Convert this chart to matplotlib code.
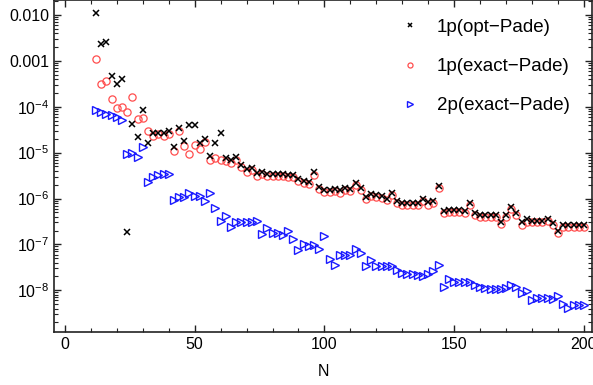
import math
import matplotlib
matplotlib.use('Agg')
import matplotlib.pyplot as plt
from matplotlib.ticker import FixedLocator, FuncFormatter, LogLocator, NullFormatter, MultipleLocator

plt.rcParams['font.family'] = ['Liberation Sans', 'DejaVu Sans']
plt.rcParams['mathtext.fontset'] = 'custom'
plt.rcParams['mathtext.rm'] = 'Liberation Sans'
plt.rcParams['mathtext.it'] = 'Liberation Sans:italic'
plt.rcParams['mathtext.bf'] = 'Liberation Sans:bold'

N = [12, 14, 16, 18, 20, 22, 24, 26, 28, 30, 32, 34, 36, 38, 40, 42, 44, 46, 48, 50,
     52, 54, 56, 58, 60, 62, 64, 66, 68, 70, 72, 74, 76, 78, 80, 82, 84, 86, 88, 90,
     92, 94, 96, 98, 100, 102, 104, 106, 108, 110, 112, 114, 116, 118, 120, 122, 124, 126, 128, 130,
     132, 134, 136, 138, 140, 142, 144, 146, 148, 150, 152, 154, 156, 158, 160, 162, 164, 166, 168, 170,
     172, 174, 176, 178, 180, 182, 184, 186, 188, 190, 192, 194, 196, 198, 200]

opt_pade_1p = [1.1e-2, 2.3e-3, 2.6e-3, 4.7e-4, 3.1e-4, 4.1e-4, 1.9e-7, 4.2e-5, 2.2e-5, 8.7e-5,
               1.66e-5, 2.7e-5, 2.7e-5, 2.7e-5, 2.9e-5, 1.35e-5, 3.4e-5, 1.8e-5, 3.9e-5, 3.9e-5,
               1.6e-5, 2.0e-5, 8.6e-6, 1.6e-5, 2.7e-5, 7.6e-6, 6.9e-6, 8.2e-6, 5.5e-6, 4.5e-6,
               4.7e-6, 3.6e-6, 3.8e-6, 3.5e-6, 3.5e-6, 3.5e-6, 3.5e-6, 3.2e-6, 3.2e-6, 2.7e-6,
               2.4e-6, 2.3e-6, 3.7e-6, 1.8e-6, 1.55e-6, 1.55e-6, 1.6e-6, 1.5e-6, 1.7e-6, 1.6e-6,
               2.2e-6, 1.66e-6, 1.1e-6, 1.26e-6, 1.2e-6, 1.15e-6, 1.0e-6, 1.3e-6, 8.7e-7, 7.9e-7,
               8.0e-7, 8.0e-7, 8.0e-7, 1.0e-6, 8.2e-7, 8.9e-7, 1.9e-6, 5.3e-7, 5.7e-7, 5.5e-7,
               5.5e-7, 5.4e-7, 8.1e-7, 4.8e-7, 4.3e-7, 4.4e-7, 4.3e-7, 4.4e-7, 3.1e-7, 4.4e-7,
               6.6e-7, 4.9e-7, 3.0e-7, 3.5e-7, 3.3e-7, 3.3e-7, 3.3e-7, 3.6e-7, 2.9e-7, 1.95e-7,
               2.7e-7, 2.6e-7, 2.6e-7, 2.6e-7, 2.6e-7]

exact_pade_1p = [1.1e-3, 3.1e-4, 3.7e-4, 1.5e-4, 9.5e-5, 1.0e-4, 7.7e-5, 1.6e-4, 5.5e-5, 5.6e-5,
                 2.9e-5, 2.3e-5, 2.5e-5, 2.3e-5, 2.6e-5, 1.07e-5, 3.0e-5, 1.4e-5, 9.5e-6, 1.5e-5,
                 1.2e-5, 1.7e-5, 6.9e-6, 7.7e-6, 6.9e-6, 6.6e-6, 5.9e-6, 6.9e-6, 4.9e-6, 3.8e-6,
                 4.1e-6, 3.1e-6, 3.4e-6, 3.1e-6, 3.1e-6, 3.1e-6, 3.1e-6, 2.9e-6, 2.9e-6, 2.4e-6,
                 2.2e-6, 2.1e-6, 3.3e-6, 1.6e-6, 1.4e-6, 1.4e-6, 1.45e-6, 1.35e-6, 1.5e-6, 1.45e-6,
                 1.95e-6, 1.5e-6, 1.0e-6, 1.12e-6, 1.08e-6, 1.05e-6, 9.2e-7, 1.17e-6, 7.8e-7, 7.1e-7,
                 7.2e-7, 7.2e-7, 7.2e-7, 9.0e-7, 7.4e-7, 8.0e-7, 1.7e-6, 4.8e-7, 5.1e-7, 5.0e-7,
                 5.0e-7, 4.9e-7, 7.3e-7, 4.3e-7, 3.9e-7, 4.0e-7, 3.9e-7, 4.0e-7, 2.8e-7, 4.0e-7,
                 5.9e-7, 4.4e-7, 2.7e-7, 3.15e-7, 3.0e-7, 3.0e-7, 3.0e-7, 3.2e-7, 2.6e-7, 1.75e-7,
                 2.4e-7, 2.35e-7, 2.35e-7, 2.35e-7, 2.35e-7]

exact_pade_2p = [8.3e-5, 7.7e-5, 6.8e-5, 6.5e-5, 6.1e-5, 5.1e-5, 9.5e-6, 1.0e-5, 8.0e-6, 1.3e-5,
                 2.3e-6, 3.0e-6, 3.2e-6, 3.4e-6, 3.5e-6, 9.5e-7, 1.1e-6, 1.1e-6, 1.3e-6, 1.15e-6,
                 1.15e-6, 8.9e-7, 1.3e-6, 6.3e-7, 3.3e-7, 4.2e-7, 2.4e-7, 3.0e-7, 3.1e-7, 3.1e-7,
                 3.1e-7, 3.2e-7, 1.67e-7, 2.3e-7, 1.75e-7, 1.75e-7, 1.6e-7, 2.0e-7, 1.3e-7, 7.6e-8,
                 1.0e-7, 9.3e-8, 9.6e-8, 7.9e-8, 1.55e-7, 4.9e-8, 3.5e-8, 5.8e-8, 5.8e-8, 5.8e-8,
                 8.0e-8, 6.4e-8, 3.3e-8, 4.5e-8, 3.4e-8, 3.4e-8, 3.4e-8, 3.3e-8, 2.8e-8, 2.4e-8,
                 2.3e-8, 2.3e-8, 2.2e-8, 2.0e-8, 2.3e-8, 2.6e-8, 3.5e-8, 1.2e-8, 1.8e-8, 1.5e-8,
                 1.5e-8, 1.5e-8, 1.55e-8, 1.3e-8, 1.2e-8, 1.1e-8, 1.05e-8, 1.05e-8, 1.05e-8, 1.1e-8,
                 1.3e-8, 1.2e-8, 8.9e-9, 9.5e-9, 6.1e-9, 6.9e-9, 6.9e-9, 6.7e-9, 6.6e-9, 7.6e-9,
                 5.1e-9, 4.1e-9, 4.8e-9, 4.8e-9, 4.8e-9]

series_labels = ['1p(opt\u2212Pade)', '1p(exact\u2212Pade)', '2p(exact\u2212Pade)']
x_ticks = [0, 50, 100, 150, 200]
y_ticks = [1e-2, 1e-3, 1e-4, 1e-5, 1e-6, 1e-7, 1e-8]
x_label = 'N'

fig = plt.figure(figsize=(5.93, 3.85), dpi=100)
ax = fig.add_axes([54 / 593, 1 - 331.7 / 385, 538 / 593, 331.7 / 385])
ax.set_yscale('log')

h_opt, = ax.plot(N, opt_pade_1p, linestyle='none', marker='x', ms=5, mew=1.1,
                 color='black', zorder=4, label=series_labels[0])
h_ex1, = ax.plot(N, exact_pade_1p, linestyle='none', marker='o', ms=5.2, mfc='none',
                 mec=(1.0, 0.3, 0.3), mew=0.9, zorder=3, label=series_labels[1])
h_ex2, = ax.plot(N, exact_pade_2p, linestyle='none', marker='>', ms=6, mfc='none',
                 mec=(0.1, 0.1, 1.0), mew=1.0, zorder=3, label=series_labels[2])

ax.set_xlim(-4.2, 203.1)
ax.set_ylim(1.25e-9, 2.12e-2)

ax.xaxis.set_major_locator(FixedLocator(x_ticks))
ax.xaxis.set_minor_locator(MultipleLocator(10))
ax.yaxis.set_major_locator(FixedLocator(y_ticks))
ax.yaxis.set_minor_locator(LogLocator(base=10, subs=range(2, 10), numticks=20))
ax.yaxis.set_minor_formatter(NullFormatter())


def yfmt(v, pos):
    if v >= 0.0095:
        return '0.010'
    if v >= 0.00095:
        return '0.001'
    e = int(round(math.log10(v)))
    return '10$^{\u2212%d}$' % (-e)


ax.yaxis.set_major_formatter(FuncFormatter(yfmt))
ax.tick_params(which='both', direction='in', top=True, right=True, colors='#222222',
               labelcolor='black', labelsize=11.5)
ax.tick_params(which='major', length=5, width=1.0)
ax.tick_params(which='minor', length=3, width=0.8)
for s in ax.spines.values():
    s.set_linewidth(1.2)
    s.set_color('#222222')

ax.set_xlabel(x_label, fontsize=11.5, labelpad=9)

leg = ax.legend(handles=[h_opt, h_ex1, h_ex2], loc='upper left',
                bbox_to_anchor=(0.606, 1.0), frameon=False, fontsize=13.5,
                labelspacing=1.18, handletextpad=0.84, markerscale=0.7,
                handlelength=1.2, borderaxespad=0.6)

fig.savefig('out.png', dpi=100)
